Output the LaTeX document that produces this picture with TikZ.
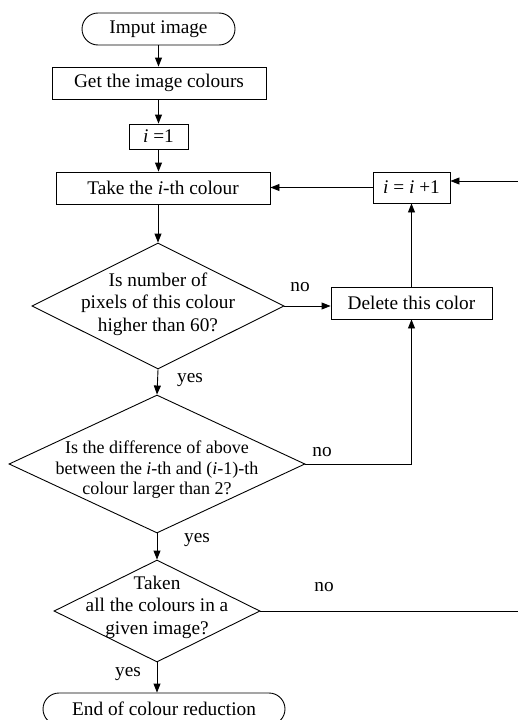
\documentclass[tikz,border=0pt]{standalone}
\usepackage{fontspec}
\setmainfont{Liberation Serif}
\usetikzlibrary{shapes.geometric, shapes.misc, arrows.meta}

\begin{document}
\begin{tikzpicture}[x=1pt, y=-1pt, line width=0.9pt,
  every node/.style={font=\fontsize{19.3}{22.5}\selectfont},
  box/.style={draw, rectangle, inner sep=0pt, minimum height=32pt},
  term/.style={draw, rounded rectangle, inner sep=0pt, minimum height=32pt},
  dec/.style={draw, diamond, aspect=2, inner sep=-20pt},
  txt/.style={align=center, inner sep=0pt},
  arr/.style={-{Triangle[length=9pt, width=7pt]}}]
  \useasboundingbox (0,0) rectangle (518,720);

  % Bloques
  \node[term, minimum width=153pt] (start) at (158.5,29) {Imput image};
  \node[box, minimum width=214pt] (get) at (159,83) {Get the image colours};
  \node[box, minimum width=59pt, minimum height=25pt] (init) at (158.5,136.5) {\textit{i} =1};
  \node[box, minimum width=214pt] (take) at (163,188) {Take the \textit{i}-th colour};
  \node[box, minimum width=77pt, minimum height=31pt] (inc) at (411.5,187.5) {\textit{i} = \textit{i} +1};
  \node[box, minimum width=161pt] (del) at (411.5,303) {Delete this color};
  \node[dec, minimum width=252pt, minimum height=126pt] (d1) at (158,306) {};
  \node[dec, minimum width=296pt, minimum height=138pt] (d2) at (157,464) {};
  \node[dec, minimum width=206pt, minimum height=102pt] (d3) at (157,611) {};
  \node[term, minimum width=242pt] (stop) at (164,709) {End of colour reduction};

  % Textos de los rombos
  \node[txt] (t1) at ([yshift=2pt]d1.center) {Is number of\\pixels of this colour\\higher than 60?};
  \node[txt, font=\fontsize{18}{20.5}\selectfont] (t2) at ([yshift=-6pt]d2.center)
    {Is the difference of above\\between the \textit{i}-th and (\textit{i}-1)-th\\colour larger than 2?};
  \node[txt] (t3) at ([yshift=4pt]d3.center) {Taken\\all the colours in a\\given image?};

  % Bordes derechos
  \coordinate (r1) at (518,611);
  \coordinate (r2) at (518,181);

  % Flechas
  \draw[arr] (start.south) -- (get.north -| start.south);
  \draw[arr] (get.south -| init.north) -- (init.north);
  \draw[arr] (init.south) -- (take.north -| init.south);
  \draw[arr] (take.south -| d1.north) -- (d1.north);
  \draw[arr] (d1.east) -- (d1.east -| del.west);
  \draw[arr] (del.north) -- (inc.south);
  \draw[arr] (inc.west) -- (inc.west -| take.east);
  \draw[arr] (d1.south) -- (d2.north);
  \draw[arr] (d2.east) -| (del.south);
  \draw[arr] (d2.south) -- (d3.north);
  \draw[arr] (d3.south) -- (d3.south |- stop.north);
  \draw (d3.east) -- (r1);
  \draw[arr] (r2) -- (r2 -| inc.east);

  % Etiquetas
  \node (no1) at (300,287) {no};
  \node (yes1) at (190,380) {yes};
  \node (no2) at (322,452) {no};
  \node (yes2) at (197,540) {yes};
  \node (no3) at (324,587) {no};
  \node (yes3) at (128,674) {yes};
\end{tikzpicture}
\end{document}
